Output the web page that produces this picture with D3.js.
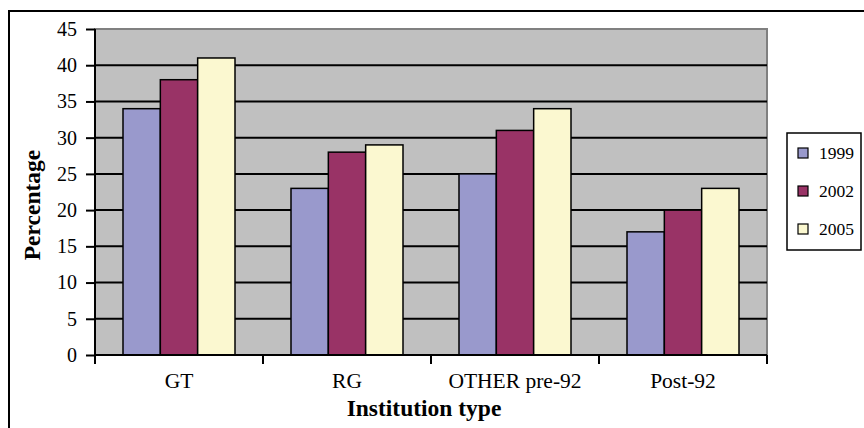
<!DOCTYPE html>
<html><head><meta charset="utf-8">
<script src="https://cdn.jsdelivr.net/npm/d3@7"></script>
<style>body{margin:0;background:#fff}svg{display:block}text{font-family:"Times New Roman","Liberation Serif",Times,serif;fill:#000}</style>
</head><body>
<svg id="c" width="864" height="428"></svg>
<script>
const categories = ["GT", "RG", "OTHER pre-92", "Post-92"];
const seriesNames = ["1999", "2002", "2005"];
const v1999 = [34, 23, 25, 17];
const v2002 = [38, 28, 31, 20];
const v2005 = [41, 29, 34, 23];
const yTicks = [0, 5, 10, 15, 20, 25, 30, 35, 40, 45];
const colors = ["#9999CC", "#993366", "#FBF8D0"];
const seriesValues = [v1999, v2002, v2005];
const FONT = '"Times New Roman","Liberation Serif",Times,serif';

const svg = d3.select("#c");
svg.append("rect").attr("x", 9).attr("y", 11).attr("width", 900).attr("height", 500)
  .attr("fill", "none").attr("stroke", "#000").attr("stroke-width", 2);

const L = 95, R = 767, T = 29, B = 355;
const x = d3.scaleBand().domain(categories).range([L, R]).paddingInner(0).paddingOuter(0);
const xs = d3.scaleBand().domain(seriesNames).range([0, x.bandwidth()]).paddingOuter(0.75).paddingInner(0);
const y = d3.scaleLinear().domain([0, 45]).range([B, T]);

svg.append("rect").attr("x", L).attr("y", T).attr("width", R - L).attr("height", B - T)
  .attr("fill", "#C0C0C0").attr("stroke", "#808080").attr("stroke-width", 2);

svg.append("g").selectAll("line").data(yTicks.filter(d => d > 0 && d < 45)).join("line")
  .attr("x1", L).attr("x2", R).attr("y1", d => y(d)).attr("y2", d => y(d))
  .attr("stroke", "#000").attr("stroke-width", 2);

const g = svg.append("g");
seriesValues.forEach((vals, si) => {
  g.selectAll(null).data(vals).join("rect")
    .attr("x", (d, i) => x(categories[i]) + xs(seriesNames[si]))
    .attr("y", d => y(d))
    .attr("width", xs.bandwidth())
    .attr("height", d => B - y(d))
    .attr("fill", colors[si]).attr("stroke", "#000").attr("stroke-width", 1.5);
});

const ya = d3.axisLeft(y).tickValues(yTicks).tickSize(9).tickPadding(9).tickFormat(d3.format("d"));
const yg = svg.append("g").attr("transform", `translate(${L},0)`).call(ya).attr("font-family", FONT);
yg.select(".domain").attr("stroke", "#000").attr("stroke-width", 2).attr("d", `M0,${T}V${B}`);
yg.selectAll(".tick line").attr("stroke", "#000").attr("stroke-width", 2);
yg.selectAll(".tick text").attr("font-size", 20).attr("font-family", FONT).attr("fill", "#000");

const xa = d3.axisBottom(x).tickSize(0);
const xg = svg.append("g").attr("transform", `translate(0,${B})`).call(xa).attr("font-family", FONT);
xg.select(".domain").attr("stroke", "#000").attr("stroke-width", 2).attr("d", `M${L},0H${R}`);
xg.selectAll(".tick text").attr("font-size", 21.5).attr("font-family", FONT).attr("fill", "#000")
  .attr("y", 33).attr("dy", 0);
const bounds = categories.map(c => x(c)).concat([R]);
xg.append("g").selectAll("line").data(bounds).join("line")
  .attr("x1", d => d).attr("x2", d => d).attr("y1", 0).attr("y2", 9)
  .attr("stroke", "#000").attr("stroke-width", 2);

svg.append("text").attr("x", 424).attr("y", 416).attr("text-anchor", "middle")
  .attr("font-family", FONT).attr("font-size", 23.5).attr("font-weight", "bold").text("Institution type");
svg.append("text").attr("transform", "translate(40,205) rotate(-90)").attr("text-anchor", "middle")
  .attr("font-family", FONT).attr("font-size", 23.5).attr("font-weight", "bold").text("Percentage");

const lg = svg.append("g");
lg.append("rect").attr("x", 787).attr("y", 133).attr("width", 74).attr("height", 117)
  .attr("fill", "#fff").attr("stroke", "#000").attr("stroke-width", 1.5);
seriesNames.forEach((s, i) => {
  const cy = 153 + i * 38;
  lg.append("rect").attr("x", 798).attr("y", cy - 5).attr("width", 10).attr("height", 10)
    .attr("fill", colors[i]).attr("stroke", "#000").attr("stroke-width", 1.2);
  lg.append("text").attr("x", 819).attr("y", cy + 6).attr("font-family", FONT).attr("font-size", 17.5).text(s);
});
</script>
</body></html>
